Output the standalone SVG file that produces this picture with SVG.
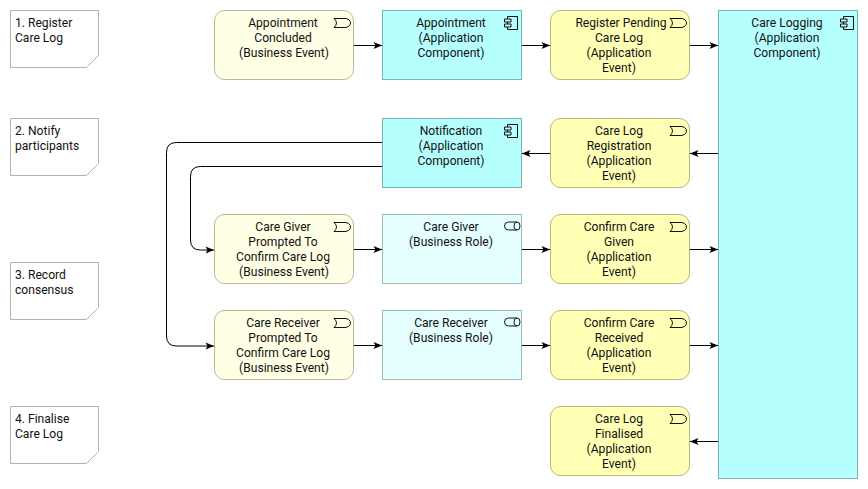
<svg xmlns="http://www.w3.org/2000/svg" width="868" height="489" viewBox="0 0 868 489">
<style>
text{font-family:Roboto,"Liberation Sans",sans-serif;font-size:12.1px;fill:#111;text-anchor:middle}
.l{text-anchor:start}
.note{fill:#fff;stroke:#b3b3b3}
.be{fill:#ffffe5;stroke:#b8b89e}
.ae{fill:#ffffb5;stroke:#b8b87e}
.ac{fill:#b5ffff;stroke:#7eb3b3}
.br{fill:#e5ffff;stroke:#9fb8b8}
.ic{fill:none;stroke:#111;stroke-width:1}
.c{fill:none;stroke:#000;stroke-width:1;marker-end:url(#a)}
</style>
<defs>
<marker id="a" markerUnits="userSpaceOnUse" markerWidth="10" markerHeight="9" refX="9" refY="4.500" orient="auto"><path d="M0.500 1L9 4.500L0.500 8L2.500 4.500Z" fill="#000"/></marker>
<g id="ev"><path class="ic" d="M0 0.500H11A5.500 4.500 0 0 1 11 9.500H0Q5 5 0 0.500Z"/></g>
<g id="comp"><path class="ic" d="M3.500 0.500H13.500V13.500H3.500M0.500 3H7V6H0.500ZM0.500 8H7V11H0.500ZM3.500 3V0.500M3.500 6V8M3.500 11V13.500"/></g>
<g id="role"><path class="ic" d="M4.500 0.500H13A3 4 0 0 1 13 8.500H4.500A4 4 0 0 1 4.500 0.500ZM13 0.500A3 4 0 0 0 13 8.500"/></g>
</defs>

<g id="note1"><path class="note" d="M10.500 10.500H98.500V55.500L86.500 67.500H10.500Z"/><text class="l" x="15" y="27">1. Register</text><text class="l" x="15" y="42">Care Log</text></g>
<g id="note2"><path class="note" d="M10.500 118.500H98.500V163.500L86.500 175.500H10.500Z"/><text class="l" x="15" y="135">2. Notify</text><text class="l" x="15" y="150">participants</text></g>
<g id="note3"><path class="note" d="M10.500 262.500H98.500V307.500L86.500 319.500H10.500Z"/><text class="l" x="15" y="279">3. Record</text><text class="l" x="15" y="294">consensus</text></g>
<g id="note4"><path class="note" d="M10.500 406.500H98.500V451.500L86.500 463.500H10.500Z"/><text class="l" x="15" y="423">4. Finalise</text><text class="l" x="15" y="438">Care Log</text></g>

<g id="connectors">
<path class="c" d="M354 45.500H382"/>
<path class="c" d="M522 45.500H550"/>
<path class="c" d="M690 45.500H718"/>
<path class="c" d="M718 153.500H690"/>
<path class="c" d="M550 153.500H522"/>
<path class="c" d="M382 142.500H176.500Q166.500 142.500 166.500 152.500V336Q166.500 346 176.500 346H214"/>
<path class="c" d="M382 166.500H200.500Q190.500 166.500 190.500 176.500V240Q190.500 250 200.500 250H214"/>
<path class="c" d="M354 249.500H382"/>
<path class="c" d="M522 249.500H550"/>
<path class="c" d="M690 249.500H718"/>
<path class="c" d="M354 345.500H382"/>
<path class="c" d="M522 345.500H550"/>
<path class="c" d="M690 345.500H718"/>
<path class="c" d="M718 441.500H690"/>
</g>

<g id="n1"><rect class="be" x="214.500" y="10.500" width="139" height="69" rx="10"/><use href="#ev" x="334" y="18"/><text x="283" y="27">Appointment</text><text x="283" y="42">Concluded</text><text x="284" y="57">(Business Event)</text></g>
<g id="n2"><rect class="ac" x="382.500" y="10.500" width="139" height="69"/><use href="#comp" x="504" y="16"/><text x="451" y="27">Appointment</text><text x="451" y="42">(Application</text><text x="451" y="57">Component)</text></g>
<g id="n3"><rect class="ae" x="550.500" y="10.500" width="139" height="69" rx="10"/><use href="#ev" x="670" y="18"/><text x="621" y="27">Register Pending</text><text x="619" y="42">Care Log</text><text x="619" y="57">(Application</text><text x="619" y="72">Event)</text></g>
<g id="n4"><rect class="ac" x="718.500" y="10.500" width="139" height="468"/><use href="#comp" x="840" y="16"/><text x="787" y="27">Care Logging</text><text x="787" y="42">(Application</text><text x="787" y="57">Component)</text></g>
<g id="n5"><rect class="ac" x="382.500" y="118.500" width="139" height="69"/><use href="#comp" x="504" y="124"/><text x="451" y="135">Notification</text><text x="451" y="150">(Application</text><text x="451" y="165">Component)</text></g>
<g id="n6"><rect class="ae" x="550.500" y="118.500" width="139" height="69" rx="10"/><use href="#ev" x="670" y="126"/><text x="619" y="135">Care Log</text><text x="619" y="150">Registration</text><text x="619" y="165">(Application</text><text x="619" y="180">Event)</text></g>
<g id="n7"><rect class="be" x="214.500" y="214.500" width="139" height="69" rx="10"/><use href="#ev" x="334" y="222"/><text x="283" y="231">Care Giver</text><text x="283" y="246">Prompted To</text><text x="283" y="261">Confirm Care Log</text><text x="284" y="276">(Business Event)</text></g>
<g id="n8"><rect class="br" x="382.500" y="214.500" width="139" height="69"/><use href="#role" x="504" y="221.500"/><text x="451" y="231">Care Giver</text><text x="451" y="246">(Business Role)</text></g>
<g id="n9"><rect class="ae" x="550.500" y="214.500" width="139" height="69" rx="10"/><use href="#ev" x="670" y="222"/><text x="619" y="231">Confirm Care</text><text x="619" y="246">Given</text><text x="619" y="261">(Application</text><text x="619" y="276">Event)</text></g>
<g id="n10"><rect class="be" x="214.500" y="310.500" width="139" height="69" rx="10"/><use href="#ev" x="334" y="318"/><text x="283" y="327">Care Receiver</text><text x="283" y="342">Prompted To</text><text x="283" y="357">Confirm Care Log</text><text x="284" y="372">(Business Event)</text></g>
<g id="n11"><rect class="br" x="382.500" y="310.500" width="139" height="69"/><use href="#role" x="504" y="317.500"/><text x="451" y="327">Care Receiver</text><text x="451" y="342">(Business Role)</text></g>
<g id="n12"><rect class="ae" x="550.500" y="310.500" width="139" height="69" rx="10"/><use href="#ev" x="670" y="318"/><text x="619" y="327">Confirm Care</text><text x="619" y="342">Received</text><text x="619" y="357">(Application</text><text x="619" y="372">Event)</text></g>
<g id="n13"><rect class="ae" x="550.500" y="406.500" width="139" height="69" rx="10"/><use href="#ev" x="670" y="414"/><text x="619" y="423">Care Log</text><text x="619" y="438">Finalised</text><text x="619" y="453">(Application</text><text x="619" y="468">Event)</text></g>
</svg>
